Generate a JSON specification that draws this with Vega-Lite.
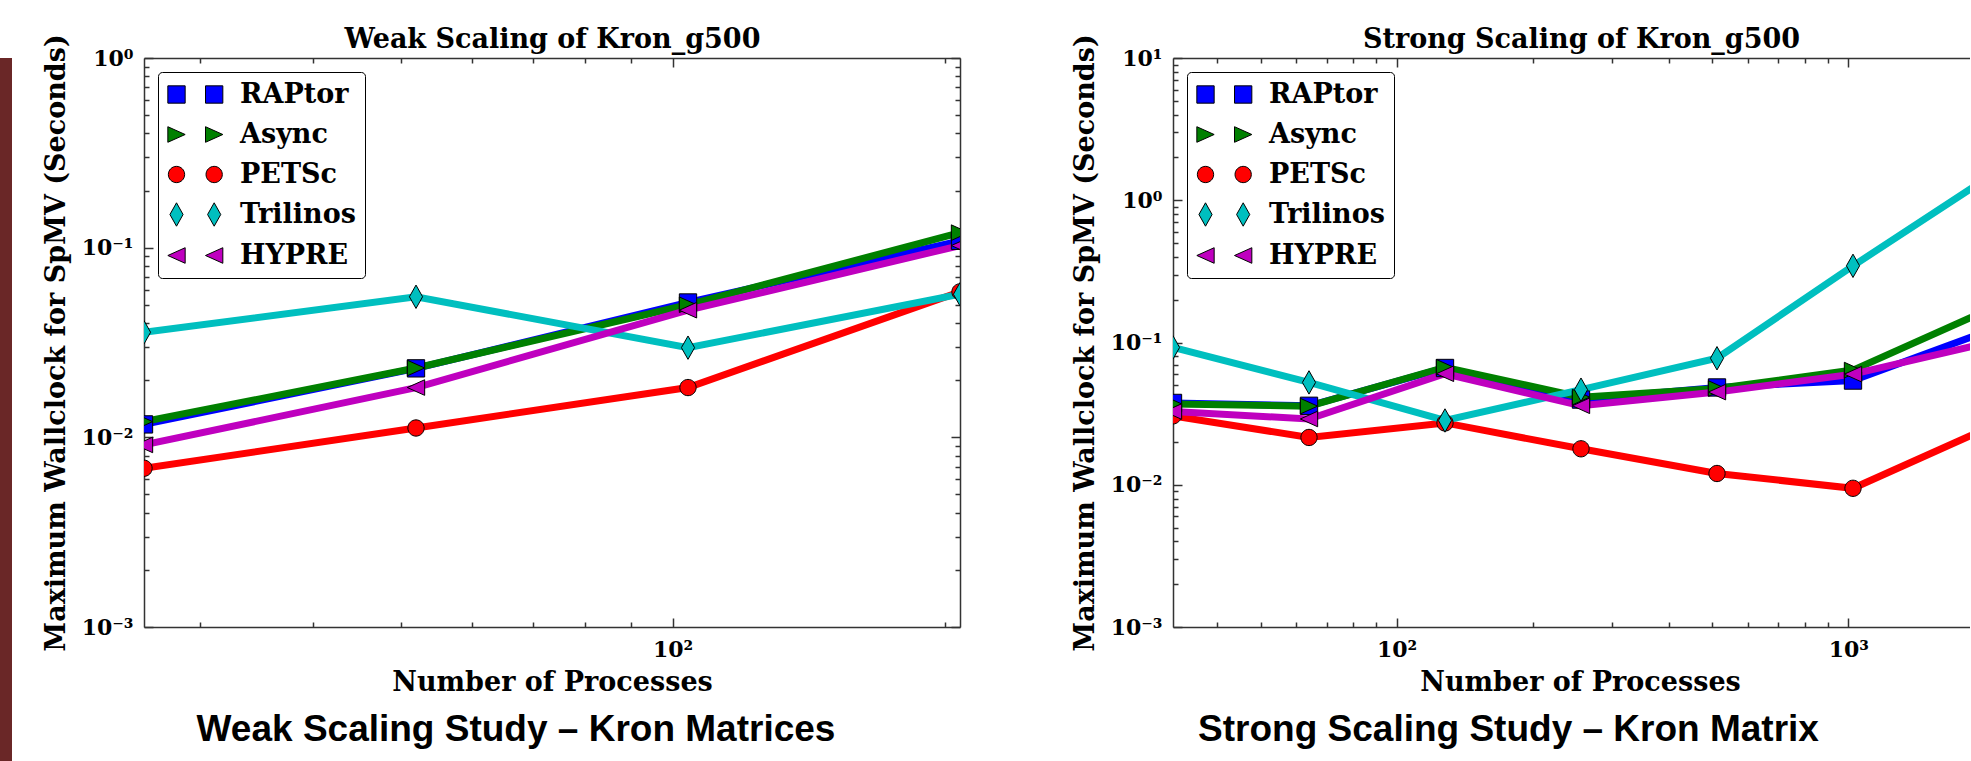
{
  "$schema": "https://vega.github.io/schema/vega-lite/v6.json",
  "background": "white",
  "padding": 0,
  "autosize": {"type": "pad"},
  "config": {
    "view": {"stroke": null},
    "axis": {
      "grid": false, "zindex": 1,
      "domainColor": "#333333", "domainWidth": 1.5,
      "tickColor": "#333333", "tickWidth": 1.5,
      "labelFont": "DejaVu Serif", "labelFontWeight": "bold", "labelFontSize": 22, "labelColor": "black",
      "titleFont": "DejaVu Serif", "titleFontWeight": "bold", "titleFontSize": 27, "titleColor": "black",
      "labelOverlap": false, "labelFlush": false
    },
    "legend": {
      "padding": 9, "rowPadding": 12, "labelOffset": 50, "symbolOffset": -4,
      "labelFont": "DejaVu Serif", "labelFontWeight": "bold", "labelFontSize": 27, "labelColor": "black", "labelLimit": 300,
      "symbolSize": 300, "symbolStrokeWidth": 1, "symbolOpacity": 1,
      "strokeColor": "black", "fillColor": "white", "cornerRadius": 4
    }
  },
  "datasets": {
    "weak": [
      {"series": "RAPtor", "n": 26, "t": 0.0117}, {"series": "RAPtor", "n": 52, "t": 0.0231}, {"series": "RAPtor", "n": 104, "t": 0.0514}, {"series": "RAPtor", "n": 208, "t": 0.1087},
      {"series": "Async", "n": 26, "t": 0.0121}, {"series": "Async", "n": 52, "t": 0.0232}, {"series": "Async", "n": 104, "t": 0.0500}, {"series": "Async", "n": 208, "t": 0.120},
      {"series": "PETSc", "n": 26, "t": 0.00687}, {"series": "PETSc", "n": 52, "t": 0.0112}, {"series": "PETSc", "n": 104, "t": 0.0183}, {"series": "PETSc", "n": 208, "t": 0.0585},
      {"series": "Trilinos", "n": 26, "t": 0.0358}, {"series": "Trilinos", "n": 52, "t": 0.0551}, {"series": "Trilinos", "n": 104, "t": 0.0297}, {"series": "Trilinos", "n": 208, "t": 0.0568},
      {"series": "HYPRE", "n": 26, "t": 0.00912}, {"series": "HYPRE", "n": 52, "t": 0.0183}, {"series": "HYPRE", "n": 104, "t": 0.0468}, {"series": "HYPRE", "n": 208, "t": 0.1026}
    ],
    "strong": [
      {"series": "RAPtor", "n": 32, "t": 0.0376}, {"series": "RAPtor", "n": 64, "t": 0.0359}, {"series": "RAPtor", "n": 128, "t": 0.0662}, {"series": "RAPtor", "n": 256, "t": 0.0397}, {"series": "RAPtor", "n": 512, "t": 0.0483}, {"series": "RAPtor", "n": 1024, "t": 0.054}, {"series": "RAPtor", "n": 2048, "t": 0.1216},
      {"series": "Async", "n": 32, "t": 0.037}, {"series": "Async", "n": 64, "t": 0.0357}, {"series": "Async", "n": 128, "t": 0.067}, {"series": "Async", "n": 256, "t": 0.0413}, {"series": "Async", "n": 512, "t": 0.0475}, {"series": "Async", "n": 1024, "t": 0.064}, {"series": "Async", "n": 2048, "t": 0.171},
      {"series": "PETSc", "n": 32, "t": 0.0305}, {"series": "PETSc", "n": 64, "t": 0.0215}, {"series": "PETSc", "n": 128, "t": 0.0272}, {"series": "PETSc", "n": 256, "t": 0.0179}, {"series": "PETSc", "n": 512, "t": 0.012}, {"series": "PETSc", "n": 1024, "t": 0.00944}, {"series": "PETSc", "n": 2048, "t": 0.0253},
      {"series": "Trilinos", "n": 32, "t": 0.0923}, {"series": "Trilinos", "n": 64, "t": 0.0524}, {"series": "Trilinos", "n": 128, "t": 0.0283}, {"series": "Trilinos", "n": 256, "t": 0.0466}, {"series": "Trilinos", "n": 512, "t": 0.0775}, {"series": "Trilinos", "n": 1024, "t": 0.346}, {"series": "Trilinos", "n": 2048, "t": 1.46},
      {"series": "HYPRE", "n": 32, "t": 0.0327}, {"series": "HYPRE", "n": 64, "t": 0.029}, {"series": "HYPRE", "n": 128, "t": 0.0603}, {"series": "HYPRE", "n": 256, "t": 0.0359}, {"series": "HYPRE", "n": 512, "t": 0.0448}, {"series": "HYPRE", "n": 1024, "t": 0.0599}, {"series": "HYPRE", "n": 2048, "t": 0.1}
    ]
  },
  "spacing": 30,
  "hconcat": [
    {
      "width": 12, "height": 704,
      "data": {"values": [{"band": "slide"}]},
      "mark": {"type": "rect", "color": "#6a2727"}
    },
    {
      "spacing": 110,
      "resolve": {"scale": {"color": "independent", "shape": "independent", "stroke": "independent"}},
      "hconcat": [
        {
          "width": 816, "height": 569,
          "data": {"name": "weak"},
          "title": {"text": "Weak Scaling Study – Kron Matrices", "orient": "bottom", "anchor": "middle", "dx": -36, "offset": 17, "font": "Liberation Sans", "fontSize": 37, "fontWeight": "bold", "color": "black"},
          "resolve": {"scale": {"color": "independent", "shape": "independent", "stroke": "independent"}},
          "layer": [
            {
              "mark": {"type": "line", "strokeWidth": 7, "clip": true},
              "encoding": {
                "x": {"field": "n", "type": "quantitative", "scale": {"type": "log", "domain": [26, 208], "nice": false},
                  "axis": {"orient": "bottom", "values": [30, 40, 50, 60, 70, 80, 90, 100, 200],
                    "labelExpr": "abs(log(datum.value)/LN10 - round(log(datum.value)/LN10)) < 0.001 ? ['10⁻³','10⁻²','10⁻¹','10⁰','10¹','10²','10³','10⁴'][round(log(datum.value)/LN10) + 3] : ''",
                    "tickSize": {"condition": {"test": "abs(log(datum.value)/LN10 - round(log(datum.value)/LN10)) < 0.001", "value": -9}, "value": -5},
                    "labelPadding": 21, "title": "Number of Processes", "titlePadding": 5}},
                "y": {"field": "t", "type": "quantitative", "scale": {"type": "log", "domain": [0.001, 1], "nice": false},
                  "axis": {"orient": "left", "values": [0.001, 0.002, 0.003, 0.004, 0.005, 0.006, 0.007, 0.008, 0.009, 0.01, 0.02, 0.03, 0.04, 0.05, 0.06, 0.07, 0.08, 0.09, 0.1, 0.2, 0.3, 0.4, 0.5, 0.6, 0.7, 0.8, 0.9, 1],
                    "labelExpr": "abs(log(datum.value)/LN10 - round(log(datum.value)/LN10)) < 0.001 ? ['10⁻³','10⁻²','10⁻¹','10⁰','10¹','10²','10³','10⁴'][round(log(datum.value)/LN10) + 3] : ''",
                    "tickSize": {"condition": {"test": "abs(log(datum.value)/LN10 - round(log(datum.value)/LN10)) < 0.001", "value": -9}, "value": -5},
                    "labelPadding": 20, "title": "Maximum Wallclock for SpMV (Seconds)", "titlePadding": 11}},
                "stroke": {"field": "series", "type": "nominal", "scale": {"domain": ["HYPRE", "Trilinos", "PETSc", "Async", "RAPtor"], "range": ["#bf00bf", "#00bfbf", "#ff0000", "#008000", "#0000ff"]}, "legend": null}
              }
            },
            {
              "mark": {"type": "point", "filled": true, "size": 300, "stroke": "black", "strokeWidth": 1, "opacity": 1, "clip": true},
              "encoding": {
                "x": {"field": "n", "type": "quantitative",
                  "axis": {"orient": "top", "values": [30, 40, 50, 60, 70, 80, 90, 100, 200], "labels": false,
                    "tickSize": {"condition": {"test": "abs(log(datum.value)/LN10 - round(log(datum.value)/LN10)) < 0.001", "value": -9}, "value": -5},
                    "title": ["", "Weak Scaling of Kron_g500"], "titlePadding": 4, "titleLineHeight": 25}},
                "y": {"field": "t", "type": "quantitative",
                  "axis": {"orient": "right", "values": [0.001, 0.002, 0.003, 0.004, 0.005, 0.006, 0.007, 0.008, 0.009, 0.01, 0.02, 0.03, 0.04, 0.05, 0.06, 0.07, 0.08, 0.09, 0.1, 0.2, 0.3, 0.4, 0.5, 0.6, 0.7, 0.8, 0.9, 1],
                    "labels": false, "title": null,
                    "tickSize": {"condition": {"test": "abs(log(datum.value)/LN10 - round(log(datum.value)/LN10)) < 0.001", "value": -9}, "value": -5}}},
                "color": {"field": "series", "type": "nominal", "scale": {"domain": ["RAPtor", "Async", "PETSc", "Trilinos", "HYPRE"], "range": ["#0000ff", "#008000", "#ff0000", "#00bfbf", "#bf00bf"]}, "legend": null},
                "shape": {"field": "series", "type": "nominal", "scale": {"domain": ["RAPtor", "Async", "PETSc", "Trilinos", "HYPRE"], "range": ["M-1,-1H1V1H-1Z", "M-1,-0.9L1,0L-1,0.9Z", "M-0.94,0A0.94,0.94,0,1,1,0.94,0A0.94,0.94,0,1,1,-0.94,0Z", "M0,-1.35L0.76,0L0,1.35L-0.76,0Z", "M1,-0.9L-1,0L1,0.9Z"]}, "legend": null}
              }
            },
            {
              "transform": [{"filter": "false"}],
              "mark": {"type": "point", "filled": true, "size": 300, "strokeWidth": 1, "opacity": 1},
              "encoding": {
                "color": {"field": "series", "type": "nominal", "scale": {"domain": ["RAPtor", "Async", "PETSc", "Trilinos", "HYPRE"], "range": ["#0000ff", "#008000", "#ff0000", "#00bfbf", "#bf00bf"]},
                  "legend": {"orient": "top-left", "offset": 14, "title": null}},
                "stroke": {"field": "series", "type": "nominal", "scale": {"domain": ["RAPtor", "Async", "PETSc", "Trilinos", "HYPRE"], "range": ["black", "black", "black", "black", "black"]},
                  "legend": {"orient": "top-left", "offset": 14, "title": null}},
                "shape": {"field": "series", "type": "nominal", "scale": {"domain": ["RAPtor", "Async", "PETSc", "Trilinos", "HYPRE"], "range": ["M-1,-1H1V1H-1Z M3.35,-1H5.35V1H3.35Z", "M-1,-0.9L1,0L-1,0.9Z M3.35,-0.9L5.35,0L3.35,0.9Z", "M-0.94,0A0.94,0.94,0,1,1,0.94,0A0.94,0.94,0,1,1,-0.94,0Z M3.41,0A0.94,0.94,0,1,1,5.29,0A0.94,0.94,0,1,1,3.41,0Z", "M0,-1.35L0.76,0L0,1.35L-0.76,0Z M4.35,-1.35L5.11,0L4.35,1.35L3.59,0Z", "M1,-0.9L-1,0L1,0.9Z M5.35,-0.9L3.35,0L5.35,0.9Z"]},
                  "legend": {"orient": "top-left", "offset": 14, "title": null}}
              }
            }
          ]
        },
        {
          "width": 797, "height": 569,
          "data": {"name": "strong"},
          "title": {"text": "Strong Scaling Study – Kron Matrix", "orient": "bottom", "anchor": "middle", "dx": -63, "offset": 17, "font": "Liberation Sans", "fontSize": 37, "fontWeight": "bold", "color": "black"},
          "resolve": {"scale": {"color": "independent", "shape": "independent", "stroke": "independent"}},
          "layer": [
            {
              "mark": {"type": "line", "strokeWidth": 7, "clip": true},
              "encoding": {
                "x": {"field": "n", "type": "quantitative", "scale": {"type": "log", "domain": [32, 1859], "nice": false},
                  "axis": {"orient": "bottom", "values": [40, 50, 60, 70, 80, 90, 100, 200, 300, 400, 500, 600, 700, 800, 900, 1000],
                    "labelExpr": "abs(log(datum.value)/LN10 - round(log(datum.value)/LN10)) < 0.001 ? ['10⁻³','10⁻²','10⁻¹','10⁰','10¹','10²','10³','10⁴'][round(log(datum.value)/LN10) + 3] : ''",
                    "tickSize": {"condition": {"test": "abs(log(datum.value)/LN10 - round(log(datum.value)/LN10)) < 0.001", "value": -9}, "value": -5},
                    "labelPadding": 21, "title": "Number of Processes", "titlePadding": 5, "titleX": 407}},
                "y": {"field": "t", "type": "quantitative", "scale": {"type": "log", "domain": [0.001, 10], "nice": false},
                  "axis": {"orient": "left", "values": [0.001, 0.002, 0.003, 0.004, 0.005, 0.006, 0.007, 0.008, 0.009, 0.01, 0.02, 0.03, 0.04, 0.05, 0.06, 0.07, 0.08, 0.09, 0.1, 0.2, 0.3, 0.4, 0.5, 0.6, 0.7, 0.8, 0.9, 1, 2, 3, 4, 5, 6, 7, 8, 9, 10],
                    "labelExpr": "abs(log(datum.value)/LN10 - round(log(datum.value)/LN10)) < 0.001 ? ['10⁻³','10⁻²','10⁻¹','10⁰','10¹','10²','10³','10⁴'][round(log(datum.value)/LN10) + 3] : ''",
                    "tickSize": {"condition": {"test": "abs(log(datum.value)/LN10 - round(log(datum.value)/LN10)) < 0.001", "value": -9}, "value": -5},
                    "labelPadding": 20, "title": "Maximum Wallclock for SpMV (Seconds)", "titlePadding": 11}},
                "stroke": {"field": "series", "type": "nominal", "scale": {"domain": ["HYPRE", "Trilinos", "PETSc", "Async", "RAPtor"], "range": ["#bf00bf", "#00bfbf", "#ff0000", "#008000", "#0000ff"]}, "legend": null}
              }
            },
            {
              "mark": {"type": "point", "filled": true, "size": 300, "stroke": "black", "strokeWidth": 1, "opacity": 1, "clip": true},
              "encoding": {
                "x": {"field": "n", "type": "quantitative",
                  "axis": {"orient": "top", "values": [40, 50, 60, 70, 80, 90, 100, 200, 300, 400, 500, 600, 700, 800, 900, 1000], "labels": false,
                    "tickSize": {"condition": {"test": "abs(log(datum.value)/LN10 - round(log(datum.value)/LN10)) < 0.001", "value": -9}, "value": -5},
                    "title": ["", "Strong Scaling of Kron_g500"], "titlePadding": 4, "titleLineHeight": 25, "titleX": 408}},
                "y": {"field": "t", "type": "quantitative",
                  "axis": {"orient": "right", "domain": false, "ticks": false, "labels": false, "title": null}},
                "color": {"field": "series", "type": "nominal", "scale": {"domain": ["RAPtor", "Async", "PETSc", "Trilinos", "HYPRE"], "range": ["#0000ff", "#008000", "#ff0000", "#00bfbf", "#bf00bf"]}, "legend": null},
                "shape": {"field": "series", "type": "nominal", "scale": {"domain": ["RAPtor", "Async", "PETSc", "Trilinos", "HYPRE"], "range": ["M-1,-1H1V1H-1Z", "M-1,-0.9L1,0L-1,0.9Z", "M-0.94,0A0.94,0.94,0,1,1,0.94,0A0.94,0.94,0,1,1,-0.94,0Z", "M0,-1.35L0.76,0L0,1.35L-0.76,0Z", "M1,-0.9L-1,0L1,0.9Z"]}, "legend": null}
              }
            },
            {
              "transform": [{"filter": "false"}],
              "mark": {"type": "point", "filled": true, "size": 300, "strokeWidth": 1, "opacity": 1},
              "encoding": {
                "color": {"field": "series", "type": "nominal", "scale": {"domain": ["RAPtor", "Async", "PETSc", "Trilinos", "HYPRE"], "range": ["#0000ff", "#008000", "#ff0000", "#00bfbf", "#bf00bf"]},
                  "legend": {"orient": "top-left", "offset": 14, "title": null}},
                "stroke": {"field": "series", "type": "nominal", "scale": {"domain": ["RAPtor", "Async", "PETSc", "Trilinos", "HYPRE"], "range": ["black", "black", "black", "black", "black"]},
                  "legend": {"orient": "top-left", "offset": 14, "title": null}},
                "shape": {"field": "series", "type": "nominal", "scale": {"domain": ["RAPtor", "Async", "PETSc", "Trilinos", "HYPRE"], "range": ["M-1,-1H1V1H-1Z M3.35,-1H5.35V1H3.35Z", "M-1,-0.9L1,0L-1,0.9Z M3.35,-0.9L5.35,0L3.35,0.9Z", "M-0.94,0A0.94,0.94,0,1,1,0.94,0A0.94,0.94,0,1,1,-0.94,0Z M3.41,0A0.94,0.94,0,1,1,5.29,0A0.94,0.94,0,1,1,3.41,0Z", "M0,-1.35L0.76,0L0,1.35L-0.76,0Z M4.35,-1.35L5.11,0L4.35,1.35L3.59,0Z", "M1,-0.9L-1,0L1,0.9Z M5.35,-0.9L3.35,0L5.35,0.9Z"]},
                  "legend": {"orient": "top-left", "offset": 14, "title": null}}
              }
            }
          ]
        }
      ]
    }
  ]
}
